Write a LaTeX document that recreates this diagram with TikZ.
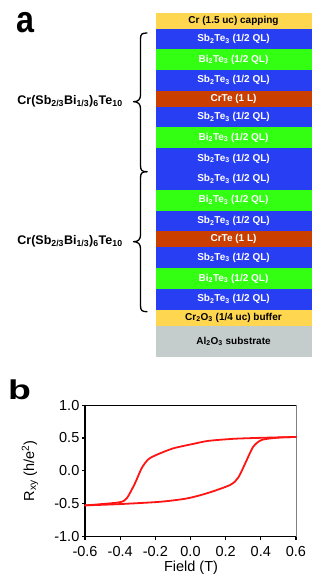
\documentclass[tikz,border=0pt]{standalone}
\usepackage{fontspec}
\setmainfont{Liberation Sans}
\definecolor{capY}{RGB}{255,214,80}
\definecolor{sbBlue}{RGB}{40,62,242}
\definecolor{biGreen}{RGB}{50,255,18}
\definecolor{crteOr}{RGB}{202,62,0}
\definecolor{subGray}{RGB}{196,204,204}
\definecolor{plotRed}{RGB}{255,20,20}
\begin{document}
\begin{tikzpicture}[x=1pt,y=-1pt,
  layer/.style={minimum width=156pt, inner sep=0pt, outer sep=0pt, anchor=north,
    font=\fontsize{10}{12}\selectfont\bfseries},
  ql/.style={layer, minimum height=20.9pt},
  thin/.style={layer, minimum height=16pt},
  sbl/.style={ql, fill=sbBlue, text=white},
  bil/.style={ql, fill=biGreen, text=white},
  crl/.style={thin, fill=crteOr, text=white},
  stacklabel/.style={inner sep=0pt, font=\fontsize{12.5}{14}\selectfont\bfseries},
  bracestyle/.style={line width=1.3pt, line join=round, line cap=round},
  panel/.style={inner sep=0pt, font=\fontsize{34}{34}\selectfont\bfseries},
  ticklab/.style={inner sep=0pt, font=\fontsize{14.5}{16}\selectfont},
  axlab/.style={inner sep=0pt, font=\fontsize{14.5}{16}\selectfont},
  curve/.style={plotRed, line width=1.8pt, line join=round, line cap=round}]
\useasboundingbox (0,0) rectangle (332,584);

% ---------- panel labels ----------
\node[panel] (pa) at (25,22.5) {\scalebox{0.95}[1.1]{a}};
\node[panel] (pb) at (19.5,389.5) {\scalebox{1.1}[0.8]{b}};

% ---------- layer stack ----------
\node[thin, fill=capY, text=black] (cap) at (233.5,12.7) {Cr (1.5 uc) capping};
\node[sbl] (s1) at (233.5,28.5) {Sb\textsubscript{2}Te\textsubscript{3} (1/2 QL)};
\node[bil] (b1) at (233.5,49.2) {Bi\textsubscript{2}Te\textsubscript{3} (1/2 QL)};
\node[sbl] (s2) at (233.5,69.9) {Sb\textsubscript{2}Te\textsubscript{3} (1/2 QL)};
\node[crl] (c1) at (233.5,90.6) {CrTe (1 L)};
\node[sbl] (s3) at (233.5,106.5) {Sb\textsubscript{2}Te\textsubscript{3} (1/2 QL)};
\node[bil] (b2) at (233.5,127.3) {Bi\textsubscript{2}Te\textsubscript{3} (1/2 QL)};
\node[sbl] (s4) at (233.5,148.1) {Sb\textsubscript{2}Te\textsubscript{3} (1/2 QL)};
\node[sbl] (s5) at (233.5,168.8) {Sb\textsubscript{2}Te\textsubscript{3} (1/2 QL)};
\node[bil] (b3) at (233.5,189.7) {Bi\textsubscript{2}Te\textsubscript{3} (1/2 QL)};
\node[sbl] (s6) at (233.5,210.5) {Sb\textsubscript{2}Te\textsubscript{3} (1/2 QL)};
\node[crl] (c2) at (233.5,231.3) {CrTe (1 L)};
\node[sbl] (s7) at (233.5,247.2) {Sb\textsubscript{2}Te\textsubscript{3} (1/2 QL)};
\node[bil] (b4) at (233.5,268.1) {Bi\textsubscript{2}Te\textsubscript{3} (1/2 QL)};
\node[sbl] (s8) at (233.5,288.9) {Sb\textsubscript{2}Te\textsubscript{3} (1/2 QL)};
\node[thin, fill=capY, text=black] (buf) at (233.5,309.7) {Cr\textsubscript{2}O\textsubscript{3} (1/4 uc) buffer};
\node[layer, minimum height=31.5pt, fill=subGray, text=black] (sub) at (233.5,325.7) {Al\textsubscript{2}O\textsubscript{3} substrate};

% ---------- braces ----------
\draw[bracestyle] (147,33) .. controls (142,33) and (140.5,34) .. (140.5,39)
  -- (140.5,95) .. controls (140.5,99.5) and (138,101.7) .. (133.5,101.7)
  .. controls (138,101.7) and (140.5,104) .. (140.5,108.5)
  -- (140.5,165.5) .. controls (140.5,170.5) and (142,171.7) .. (147,171.7);
\draw[bracestyle] (147,171.7) .. controls (142,171.7) and (140.5,173) .. (140.5,178)
  -- (140.5,235) .. controls (140.5,239.5) and (138,241.7) .. (133.5,241.7)
  .. controls (138,241.7) and (140.5,244) .. (140.5,248.5)
  -- (140.5,305.5) .. controls (140.5,310.5) and (142,311.7) .. (147,311.7);

\node[stacklabel] (lab1) at (70,101.5) {Cr(Sb\textsubscript{2/3}Bi\textsubscript{1/3})\textsubscript{6}Te\textsubscript{10}};
\node[stacklabel] (lab2) at (70,241.5) {Cr(Sb\textsubscript{2/3}Bi\textsubscript{1/3})\textsubscript{6}Te\textsubscript{10}};

% ---------- plot ----------
\begin{scope}[shift={(190.5pt,-470.85pt)}, x=175.8pt, y=65.8pt]
  \draw[line width=0.9pt] (-0.6,1) -- (0.6,1);
  \draw[line width=0.9pt, gray] (0.6,1) -- (0.6,-1);
  \draw[line width=1.3pt] (-0.6,1) -- (-0.6,-1) -- (0.6,-1);
  \foreach \v/\t [count=\i] in {1/1.0, 0.5/0.5, 0/0.0, -0.5/-0.5, -1/-1.0} {
    \draw[line width=1.1pt] (-0.6,\v) -- ++(-3.5pt,0pt);
    \node[ticklab, anchor=east, xshift=-5.5pt] (yt\i) at (-0.6,\v) {\t};
  }
  \foreach \v/\t [count=\i] in {-0.6/-0.6, -0.4/-0.4, -0.2/-0.2, 0/0.0, 0.2/0.2, 0.4/0.4, 0.6/0.6} {
    \draw[line width=1.1pt] (\v,-1) -- ++(0pt,-3.5pt);
    \node[ticklab, anchor=north, yshift=-9.5pt] (xt\i) at (\v,-1) {\t};
  }
  \node[axlab] (xlab) at (0.003,-1) [yshift=-31pt] {Field (T)};
  \node[axlab, rotate=90] (ylab) at (-0.913,0) {R\textsubscript{xy} (h/e\textsuperscript{2})};

  \draw[curve] plot[smooth, tension=0.45] coordinates {
    (0.6,0.515) (0.4,0.502) (0.244,0.487) (0.1,0.455) (0.016,0.41)
    (-0.098,0.342) (-0.192,0.245) (-0.24,0.175) (-0.278,0.04)
    (-0.316,-0.19) (-0.363,-0.418) (-0.41,-0.48) (-0.6,-0.525)};
  \draw[curve] plot[smooth, tension=0.45] coordinates {
    (-0.6,-0.525) (-0.41,-0.506) (-0.173,-0.47) (-0.022,-0.42)
    (0.092,-0.342) (0.225,-0.215) (0.272,-0.1) (0.32,0.165)
    (0.357,0.367) (0.405,0.47) (0.5,0.505) (0.6,0.515)};
\end{scope}
\end{tikzpicture}
\end{document}
